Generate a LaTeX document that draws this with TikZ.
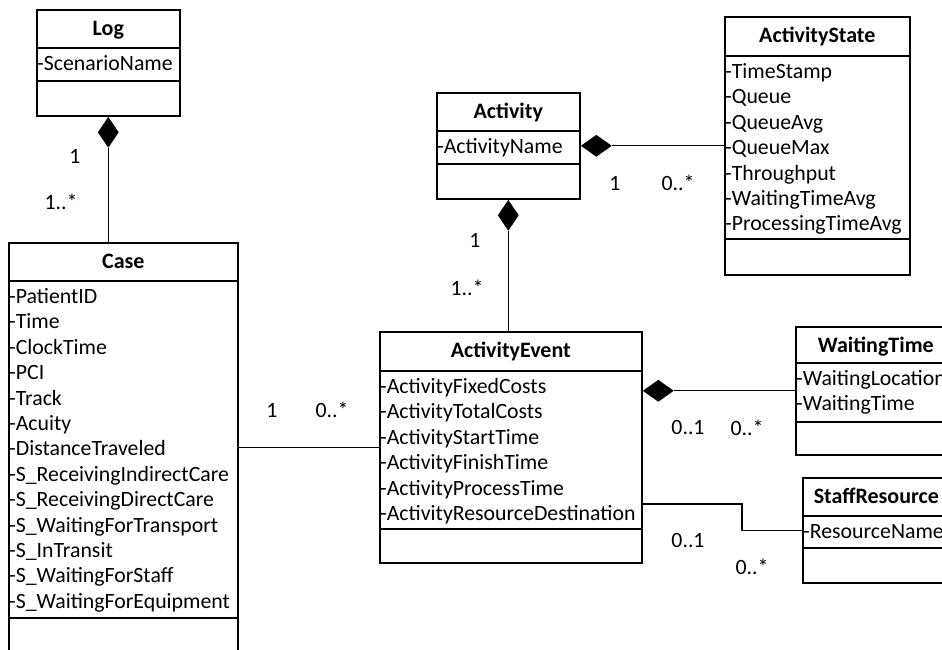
\documentclass[tikz,border=0pt]{standalone}
\usepackage{fontspec}
\setmainfont{Carlito}
\usetikzlibrary{shapes.geometric}

\tikzset{
  umlbox/.style={draw, line width=1.6pt, inner sep=0pt, anchor=north west},
  divider/.style={line width=1.6pt},
  classtitle/.style={font=\fontsize{22}{26}\selectfont\bfseries, inner sep=0pt, anchor=base},
  attr/.style={font=\fontsize{21.8}{25.4}\selectfont, inner sep=0pt, anchor=base west},
  mult/.style={font=\fontsize{21.8}{25.4}\selectfont, inner sep=0pt, text height=14pt, text depth=0pt},
  link/.style={line width=1.1pt},
  compov/.style={diamond, fill=black, inner sep=0pt, minimum width=21pt, minimum height=31pt},
  compoh/.style={diamond, fill=black, inner sep=0pt, minimum width=31pt, minimum height=22pt}
}

% #1 name, #2 x, #3 top, #4 width, #5 height, #6 header height,
% #7 attribute compartment height, #8 class name, #9 attributes
\newcommand\umlclass[9]{%
  \node[umlbox, minimum width=#4pt, minimum height=#5pt] (#1) at (#2,#3) {};
  \draw[divider] ([yshift={-(#6)*1pt}]#1.north west) -- ([yshift={-(#6)*1pt}]#1.north east);
  \draw[divider] ([yshift={-(#6+#7)*1pt}]#1.north west) -- ([yshift={-(#6+#7)*1pt}]#1.north east);
  \node[classtitle] (#1-title) at ([yshift=-26.2pt]#1.north) {#8};
  \foreach \a [count=\i] in {#9}
    \node[attr] (#1-\i) at ([xshift=1pt, yshift={-(#6+22.5+25.4*(\i-1))*1pt}]#1.north west) {\a};
}

\begin{document}
\begin{tikzpicture}[x=1pt, y=-1pt]
\useasboundingbox (0,0) rectangle (942,650);
\clip (0,0) rectangle (942,650);

% classes
\umlclass{log}{36}{9}{143}{106}{39}{33}{Log}{-ScenarioName}
\umlclass{case}{8}{242}{229}{460}{39}{337}{Case}{-PatientID,-Time,-ClockTime,-PCI,-Track,-Acuity,-DistanceTraveled,-S\_ReceivingIndirectCare,-S\_ReceivingDirectCare,-S\_WaitingForTransport,-S\_InTransit,-S\_WaitingForStaff,-S\_WaitingForEquipment}
\umlclass{act}{436}{92}{143}{106}{39}{33}{Activity}{-ActivityName}
\umlclass{as}{724}{16}{185}{258}{40}{183}{ActivityState}{-TimeStamp,-Queue,-QueueAvg,-QueueMax,-Throughput,-WaitingTimeAvg,-ProcessingTimeAvg}
\umlclass{ae}{379}{331}{262}{231}{40}{158}{ActivityEvent}{-ActivityFixedCosts,-ActivityTotalCosts,-ActivityStartTime,-ActivityFinishTime,-ActivityProcessTime,-ActivityResourceDestination}
\umlclass{wt}{795}{326}{160}{128}{37}{59}{WaitingTime}{-WaitingLocation,-WaitingTime}
\umlclass{sr}{802}{477}{147}{105}{39}{32}{StaffResource}{-ResourceName}

% Log <>-- Case
\node[compov, anchor=north] (d-log) at (log.south) {};
\draw[link] (d-log.south) -- (d-log.south |- case.north);
\node[mult] (m-log1) at (75,157) {1};
\node[mult] (m-log2) at (61,202) {1..*};

% Activity <>-- ActivityEvent
\node[compov, anchor=north] (d-act) at (act.south) {};
\draw[link] (d-act.south) -- (d-act.south |- ae.north);
\node[mult] (m-act1) at (475,240) {1};
\node[mult] (m-act2) at (467,288) {1..*};

% Activity <>-- ActivityState
\node[compoh, anchor=west] (d-as) at (act.east) {};
\draw[link] (d-as.east) -- (d-as.east -| as.west);
\node[mult] (m-as1) at (615,183) {1};
\node[mult] (m-as2) at (678,183) {0..*};

% Case -- ActivityEvent
\draw[link] (ae.west) -- (ae.west -| case.east);
\node[mult] (m-case1) at (272,410) {1};
\node[mult] (m-case2) at (332,410) {0..*};

% ActivityEvent <>-- WaitingTime
\node[compoh, anchor=west] (d-wt) at (ae.east |- wt.west) {};
\draw[link] (d-wt.east) -- (wt.west);
\node[mult] (m-wt1) at (688,427) {0..1};
\node[mult] (m-wt2) at (747,428) {0..*};

% ActivityEvent -- StaffResource
\coordinate (sr-out) at (641,504);
\coordinate (sr-knee) at (742,504);
\draw[link] (ae.east |- sr-out) -- (sr-knee) |- (sr.west);
\node[mult] (m-sr1) at (688,540) {0..1};
\node[mult] (m-sr2) at (752,567) {0..*};
\end{tikzpicture}
\end{document}
